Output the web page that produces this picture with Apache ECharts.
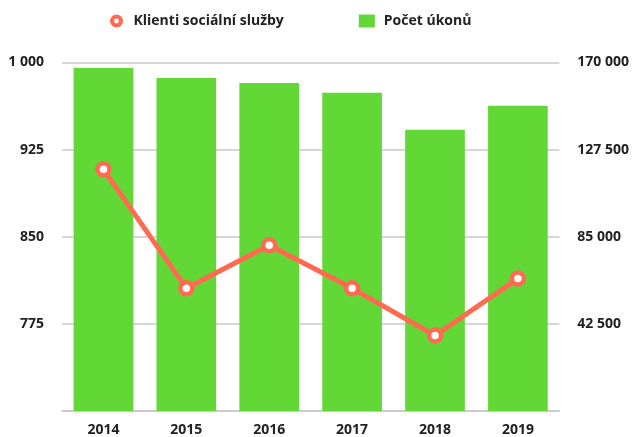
<!DOCTYPE html>
<html><head><meta charset="utf-8">
<script src="https://cdn.jsdelivr.net/npm/echarts@6/dist/echarts.min.js"></script>
<style>html,body{margin:0;padding:0;background:#fff}#c{width:632px;height:437px}</style>
</head><body><div id="c"></div>
<script>
const categories = ['2014','2015','2016','2017','2018','2019'];
const klienti = [908, 805.6, 842.7, 805.6, 765, 814];
const ukony = [167300, 162500, 160000, 155200, 137200, 148900];
const leftTicks = [700, 1000, 75];
const rightTicks = [0, 170000, 42500];

const fmt = v => String(v).replace(/\B(?=(\d{3})+(?!\d))/g, ' ');
const lineColor = '#ff6a50', barColor = '#61d836';
const font = '"Open Sans", sans-serif';
const ringIcon = 'path://M10,0A10,10,0,1,1,9.99,0ZM10,6.3A3.7,3.7,0,1,0,10.01,6.3Z';
const chart = echarts.init(document.getElementById('c'));
chart.setOption({
  animation: false,
  textStyle: { fontFamily: font },
  legend: {
    top: 9, left: 105, itemGap: 75, itemWidth: 16, itemHeight: 13,
    textStyle: { fontFamily: font, fontWeight: 'bold', fontSize: 14, color: '#222', padding: [0, 0, 0, 4] },
    data: [
      { name: 'Klienti sociální služby', icon: ringIcon, itemStyle: { color: lineColor, borderWidth: 0 } },
      { name: 'Počet úkonů', icon: 'rect', itemStyle: { color: barColor } }
    ]
  },
  grid: { left: 62, right: 71, top: 62.5, bottom: 24.5, containLabel: false },
  xAxis: {
    type: 'category', data: categories,
    axisTick: { show: false },
    axisLine: { lineStyle: { color: '#c8c8c8', width: 1.5 } },
    axisLabel: { fontFamily: font, fontWeight: 'bold', fontSize: 14, color: '#222', margin: 12 }
  },
  yAxis: [
    {
      type: 'value', min: leftTicks[0], max: leftTicks[1], interval: leftTicks[2],
      axisLine: { show: false }, axisTick: { show: false },
      splitLine: { lineStyle: { color: '#c8c8c8', width: 1.5 } },
      axisLabel: { showMinLabel: false, fontFamily: font, fontWeight: 'bold', fontSize: 14, color: '#222', margin: 18, formatter: fmt }
    },
    {
      type: 'value', min: rightTicks[0], max: rightTicks[1], interval: rightTicks[2],
      axisLine: { show: false }, axisTick: { show: false },
      splitLine: { show: false },
      axisLabel: { showMinLabel: false, fontFamily: font, fontWeight: 'bold', fontSize: 14, color: '#222', margin: 18, formatter: fmt }
    }
  ],
  series: [
    {
      name: 'Počet úkonů', type: 'bar', yAxisIndex: 1, data: ukony,
      barWidth: '72%', itemStyle: { color: barColor }, z: 1
    },
    {
      name: 'Klienti sociální služby', type: 'line', yAxisIndex: 0, data: klienti,
      symbol: 'circle', symbolSize: 12,
      lineStyle: { color: lineColor, width: 5 },
      itemStyle: { color: '#fff', borderColor: lineColor, borderWidth: 4.5 }, z: 3
    }
  ]
});
</script></body></html>
